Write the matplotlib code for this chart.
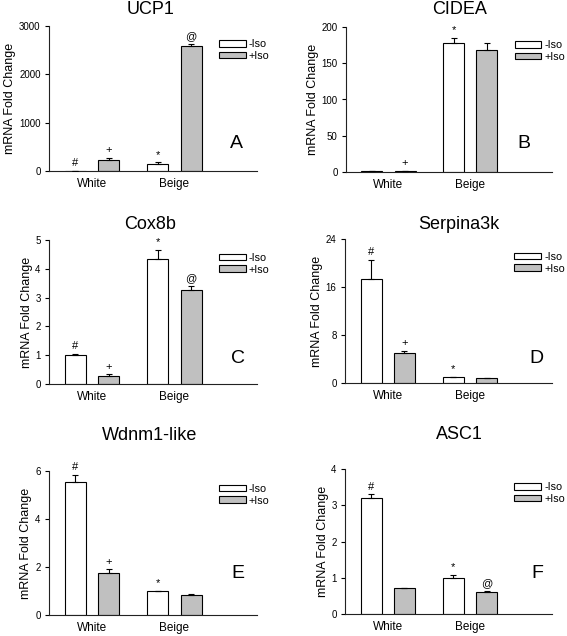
import matplotlib
matplotlib.use("Agg")
import matplotlib.pyplot as plt
import numpy as np

plt.rcParams['font.family'] = ['Liberation Sans', 'DejaVu Sans']

groups = ["White", "Beige"]
series_labels = ["-Iso", "+Iso"]

titles = ["UCP1", "CIDEA", "Cox8b", "Serpina3k", "Wdnm1-like", "ASC1"]
letters = ["A", "B", "C", "D", "E", "F"]

# values: [ -Iso (White, Beige) ], [ +Iso (White, Beige) ]
ucp1_minus = [1, 152]
ucp1_minus_err = [0, 25]
ucp1_plus = [235, 2585]
ucp1_plus_err = [30, 50]

cidea_minus = [1, 178]
cidea_minus_err = [0, 7]
cidea_plus = [1.5, 168]
cidea_plus_err = [0, 9.5]

cox8b_minus = [1.0, 4.33]
cox8b_minus_err = [0.04, 0.32]
cox8b_plus = [0.28, 3.27]
cox8b_plus_err = [0.05, 0.12]

serp_minus = [17.4, 0.95]
serp_minus_err = [3.1, 0.1]
serp_plus = [4.95, 0.78]
serp_plus_err = [0.4, 0.05]

wdnm_minus = [5.53, 1.0]
wdnm_minus_err = [0.32, 0.02]
wdnm_plus = [1.76, 0.83]
wdnm_plus_err = [0.14, 0.05]

asc1_minus = [3.2, 1.0]
asc1_minus_err = [0.1, 0.08]
asc1_plus = [0.71, 0.62]
asc1_plus_err = [0.02, 0.02]

ymaxes = [3000, 200, 5, 24, 6, 4]
yticks = [[0, 1000, 2000, 3000], [0, 50, 100, 150, 200], [0, 1, 2, 3, 4, 5],
          [0, 8, 16, 24], [0, 2, 4, 6], [0, 1, 2, 3, 4]]

# significance symbols: (-Iso White, -Iso Beige), (+Iso White, +Iso Beige)
sig_minus = [["#", "*"], ["", "*"], ["#", "*"], ["#", "*"], ["#", "*"], ["#", "*"]]
sig_plus = [["+", "@"], ["+", ""], ["+", "@"], ["+", ""], ["+", ""], ["", "@"]]

data = [
    (ucp1_minus, ucp1_minus_err, ucp1_plus, ucp1_plus_err),
    (cidea_minus, cidea_minus_err, cidea_plus, cidea_plus_err),
    (cox8b_minus, cox8b_minus_err, cox8b_plus, cox8b_plus_err),
    (serp_minus, serp_minus_err, serp_plus, serp_plus_err),
    (wdnm_minus, wdnm_minus_err, wdnm_plus, wdnm_plus_err),
    (asc1_minus, asc1_minus_err, asc1_plus, asc1_plus_err),
]

W, H = 567, 636
fig = plt.figure(figsize=(W / 100, H / 100), dpi=100)

# axes pixel boxes: left, right, top, bottom
boxes = [(49, 257, 26, 171), (346, 552, 27, 172),
         (49, 257, 240, 384), (345, 552, 239, 383),
         (49, 257, 471, 615), (345, 552, 469, 614)]
title_y = [1.083, 1.09, 1.076, 1.069, 1.215, 1.207]
letter_pos = [(0.90, 0.159), (0.864, 0.166), (0.909, 0.146), (0.923, 0.139),
              (0.909, 0.257), (0.927, 0.248)]

gray = "#c0c0c0"
bw = 0.255
off = 0.203
x = np.arange(len(groups))

for i, (mi, mie, pl, ple) in enumerate(data):
    l, r, t, b = boxes[i]
    ax = fig.add_axes([l / W, 1 - b / H, (r - l) / W, (b - t) / H])
    b1 = ax.bar(x - off, mi, bw, color="white", edgecolor="black", linewidth=0.8,
                label=series_labels[0], zorder=2)
    b2 = ax.bar(x + off, pl, bw, color=gray, edgecolor="black", linewidth=0.8,
                label=series_labels[1], zorder=2)
    ax.errorbar(x - off, mi, yerr=[np.zeros(len(mi)), mie], fmt="none",
                ecolor="black", elinewidth=0.8, capsize=2, capthick=0.8, zorder=3)
    ax.errorbar(x + off, pl, yerr=[np.zeros(len(pl)), ple], fmt="none",
                ecolor="black", elinewidth=0.8, capsize=2, capthick=0.8, zorder=3)
    for j in range(len(groups)):
        if sig_minus[i][j]:
            ax.annotate(sig_minus[i][j], (x[j] - off, mi[j] + mie[j]),
                        xytext=(0, 2), textcoords="offset points",
                        ha="center", va="bottom", fontsize=8)
        if sig_plus[i][j]:
            ax.annotate(sig_plus[i][j], (x[j] + off, pl[j] + ple[j]),
                        xytext=(0, 2), textcoords="offset points",
                        ha="center", va="bottom", fontsize=8)
    ax.set_xlim(-0.52, 2.0)
    ax.set_ylim(0, ymaxes[i])
    ax.set_yticks(yticks[i])
    ax.set_xticks(x)
    ax.set_xticklabels(groups, fontsize=8.5)
    ax.tick_params(axis="x", length=0, pad=5)
    ax.tick_params(axis="y", direction="out", length=3, width=0.8, labelsize=7, pad=3)
    for s in ["top", "right"]:
        ax.spines[s].set_visible(False)
    for s in ["left", "bottom"]:
        ax.spines[s].set_linewidth(0.8)
        ax.spines[s].set_color("#222222")
    ax.set_ylabel("mRNA Fold Change", fontsize=9, labelpad=2)
    tx = 0.486 if i % 2 == 0 else 0.551
    ax.text(tx, title_y[i], titles[i], transform=ax.transAxes, ha="center",
            va="baseline", fontsize=13)
    lx, ly = letter_pos[i]
    ax.text(lx, ly, letters[i], transform=ax.transAxes, ha="center",
            va="baseline", fontsize=14)
    ax.legend(handles=[b1, b2], loc="center left", bbox_to_anchor=(0.818, 0.835),
              frameon=False, fontsize=7.8, handlelength=2.45, handleheight=0.55,
              handletextpad=0.3, borderpad=0, borderaxespad=0, labelspacing=0.15)

fig.savefig("out.png", dpi=100)
